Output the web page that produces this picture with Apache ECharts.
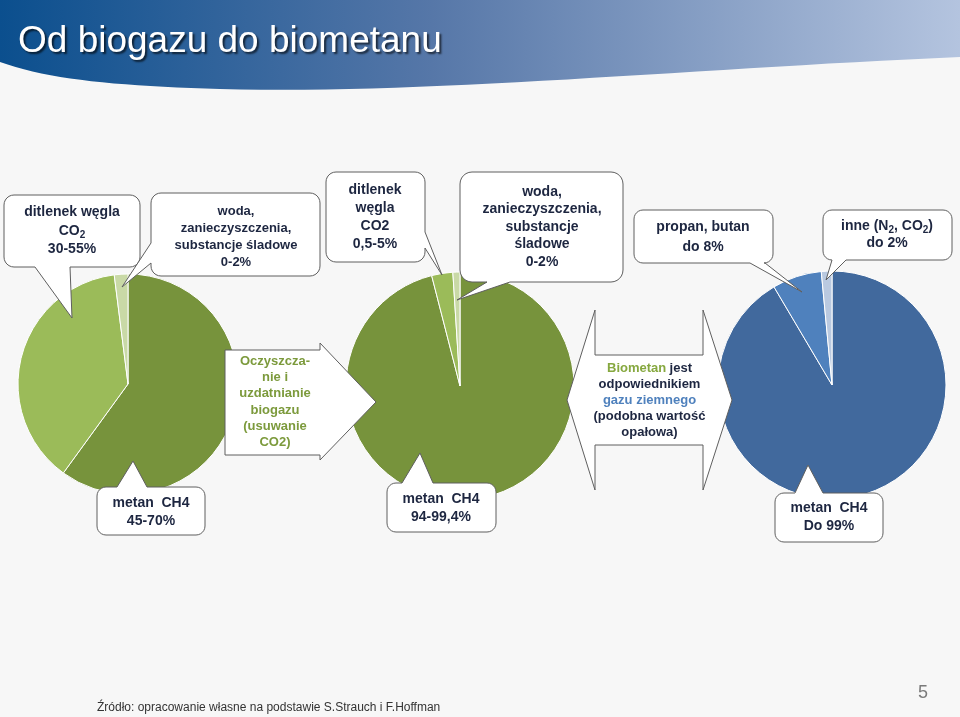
<!DOCTYPE html>
<html>
<head>
<meta charset="utf-8">
<script src="https://cdn.jsdelivr.net/npm/echarts@6/dist/echarts.min.js"></script>
<style>
html,body{margin:0;padding:0;background:#f7f7f7;}
#chart{width:960px;height:717px;}
</style>
</head>
<body>
<div id="chart"></div>
<script>
// biogas composition (%)
const pie1Names = ['metan CH4', 'ditlenek węgla CO2', 'woda, zanieczyszczenia, substancje śladowe'];
const pie1Values = [60, 38, 2];
const pie2Names = ['metan CH4', 'ditlenek węgla CO2', 'woda, zanieczyszczenia, substancje śladowe'];
const pie2Values = [96, 3, 1];
const pie3Names = ['metan CH4', 'propan, butan', 'inne (N2, CO2)'];
const pie3Values = [91.5, 7, 1.5];

const greens = ['#77933C', '#9BBB59', '#C9D9A6'];
const blues = ['#41699D', '#4F81BD', '#B9C9E0'];

const FONT = '"Liberation Sans", Arial, sans-serif';
const INK = '#1d2640';

function toData(names, values, colors){
    return names.map((n, i) => ({ name: n, value: values[i], itemStyle: { color: colors[i] } }));
}

function bubble(x, y, w, h, r, side, a, b, tx, ty){
    const pts = [];
    const arc = (cx, cy, a0, a1) => {
        for (let i = 0; i <= 6; i++) {
            const t = (a0 + (a1 - a0) * i / 6) * Math.PI / 180;
            pts.push([cx + r * Math.cos(t), cy + r * Math.sin(t)]);
        }
    };
    arc(x + r, y + r, 180, 270);
    if (side === 'top') pts.push([a, y], [tx, ty], [b, y]);
    arc(x + w - r, y + r, 270, 360);
    if (side === 'right') pts.push([x + w, a], [tx, ty], [x + w, b]);
    arc(x + w - r, y + h - r, 0, 90);
    if (side === 'bottom') pts.push([b, y + h], [tx, ty], [a, y + h]);
    arc(x + r, y + h - r, 90, 180);
    if (side === 'left') pts.push([x, b], [tx, ty], [x, a]);
    return {
        type: 'polygon', z: 100, silent: true,
        shape: { points: pts },
        style: { fill: '#ffffff', stroke: '#5f5f5f', lineWidth: 1 }
    };
}

function label(x, y, text, size, lh, color){
    const st = (c, fs) => ({ fill: c, fontSize: fs, fontWeight: 'bold', fontFamily: FONT, lineHeight: lh });
    return {
        type: 'text', z: 101, silent: true,
        style: {
            x: x, y: y, text: text,
            textAlign: 'center', textVerticalAlign: 'middle',
            align: 'center', verticalAlign: 'middle',
            rich: {
                b: st(color || INK, size),
                s: Object.assign(st(color || INK, size - 4), { verticalAlign: 'bottom' }),
                g: st('#86A83F', size),
                u: st('#4F81BD', size)
            }
        }
    };
}

// header band with a wavy lower edge
function cubic(p0, p1, p2, p3, n, out){
    for (let i = 0; i <= n; i++) {
        const t = i / n, m = 1 - t;
        out.push([
            m*m*m*p0[0] + 3*m*m*t*p1[0] + 3*m*t*t*p2[0] + t*t*t*p3[0],
            m*m*m*p0[1] + 3*m*m*t*p1[1] + 3*m*t*t*p2[1] + t*t*t*p3[1]
        ]);
    }
}
const band = [[0, 0], [960, 0]];
cubic([960, 57], [700, 68], [420, 95], [220, 89], 30, band);
cubic([220, 89], [120, 86], [50, 80], [0, 62], 20, band);

const graphics = [
    {
        type: 'polygon', z: 50, silent: true,
        shape: { points: band },
        style: {
            fill: {
                type: 'linear', x: 0, y: 0, x2: 1, y2: 0,
                colorStops: [
                    { offset: 0, color: '#0B4F8E' },
                    { offset: 0.45, color: '#5677A8' },
                    { offset: 1, color: '#B4C4DF' }
                ]
            }
        }
    },
    {
        type: 'text', z: 51, silent: true,
        style: {
            x: 18, y: 42, text: 'Od biogazu do biometanu',
            fill: '#ffffff', font: '37px ' + FONT,
            textVerticalAlign: 'middle', verticalAlign: 'middle',
            textShadowColor: 'rgba(0,0,0,0.65)', textShadowBlur: 2,
            textShadowOffsetX: 2, textShadowOffsetY: 2
        }
    },

    // pie 1 callouts
    bubble(4, 195, 136, 72, 10, 'bottom', 35, 70, 72, 318),
    label(72, 231, '{b|ditlenek węgla}\n{b|CO}{s|2}\n{b|30-55%}', 14, 18.5),
    bubble(151, 193, 169, 83, 10, 'left', 243, 263, 122, 287),
    label(236, 236.5, '{b|woda,}\n{b|zanieczyszczenia,}\n{b|substancje śladowe}\n{b|0-2%}', 13, 17),
    bubble(97, 487, 108, 48, 9, 'top', 117, 147, 133, 461),
    label(151, 512, '{b|metan  CH4}\n{b|45-70%}', 14, 18),

    // first arrow
    {
        type: 'polygon', z: 100, silent: true,
        shape: { points: [[225, 350], [320, 350], [320, 343], [376, 402], [320, 460], [320, 455], [225, 455]] },
        style: { fill: '#ffffff', stroke: '#5f5f5f', lineWidth: 1 }
    },
    label(275, 402, '{b|Oczyszcza-}\n{b|nie i}\n{b|uzdatnianie}\n{b|biogazu}\n{b|(usuwanie}\n{b|CO2)}', 13, 16.3, '#7C9A3C'),

    // pie 2 callouts
    bubble(326, 172, 99, 90, 10, 'right', 232, 248, 442, 275),
    label(375, 217, '{b|ditlenek}\n{b|węgla}\n{b|CO2}\n{b|0,5-5%}', 14, 18),
    bubble(460, 172, 163, 110, 12, 'bottom', 487, 510, 457, 300),
    label(542, 227, '{b|woda,}\n{b|zanieczyszczenia,}\n{b|substancje}\n{b|śladowe}\n{b|0-2%}', 14, 17.5),
    bubble(387, 483, 109, 49, 9, 'top', 402, 433, 420, 453),
    label(441, 508, '{b|metan  CH4}\n{b|94-99,4%}', 14, 18),

    // double arrow
    {
        type: 'polygon', z: 100, silent: true,
        shape: { points: [[567, 400], [595, 310], [595, 355], [703, 355], [703, 310], [732, 400], [703, 490], [703, 445], [595, 445], [595, 490]] },
        style: { fill: '#ffffff', stroke: '#5f5f5f', lineWidth: 1 }
    },
    label(649.5, 400, '{g|Biometan} {b|jest}\n{b|odpowiednikiem}\n{u|gazu ziemnego}\n{b|(podobna wartość}\n{b|opałowa)}', 13, 16),

    // pie 3 callouts
    bubble(634, 210, 139, 53, 9, 'bottom', 750, 765, 802, 292),
    label(703, 237, '{b|propan, butan}\n{b|do 8%}', 14, 20),
    bubble(823, 210, 129, 50, 9, 'bottom', 832, 846, 826, 280),
    label(887, 235, '{b|inne (N}{s|2}{b|, CO}{s|2}{b|)}\n{b|do 2%}', 14, 17),
    bubble(775, 493, 108, 49, 9, 'top', 795, 823, 808, 465),
    label(829, 517, '{b|metan  CH4}\n{b|Do 99%}', 14, 18),

    // footer
    {
        type: 'text', z: 101, silent: true,
        style: {
            x: 97, y: 708, text: 'Źródło: opracowanie własne na podstawie S.Strauch i F.Hoffman',
            fill: '#333333', font: '12px ' + FONT,
            textVerticalAlign: 'middle', verticalAlign: 'middle'
        }
    },
    {
        type: 'text', z: 101, silent: true,
        style: {
            x: 923, y: 693, text: '5',
            fill: '#7a7a7a', font: '18px ' + FONT,
            textAlign: 'center', align: 'center',
            textVerticalAlign: 'middle', verticalAlign: 'middle'
        }
    }
];

function pieSeries(data, cx, cy, r){
    return {
        type: 'pie',
        center: [cx, cy],
        radius: r,
        startAngle: 90,
        clockwise: true,
        silent: true,
        label: { show: false },
        labelLine: { show: false },
        itemStyle: { borderColor: '#ffffff', borderWidth: 1 },
        data: data
    };
}

const chart = echarts.init(document.getElementById('chart'), null, { renderer: 'canvas' });
chart.setOption({
    animation: false,
    backgroundColor: '#f7f7f7',
    series: [
        pieSeries(toData(pie1Names, pie1Values, greens), 128, 384, 110),
        pieSeries(toData(pie2Names, pie2Values, greens), 460, 386, 114),
        pieSeries(toData(pie3Names, pie3Values, blues), 832, 385, 114)
    ],
    graphic: graphics
});
</script>
</body>
</html>
